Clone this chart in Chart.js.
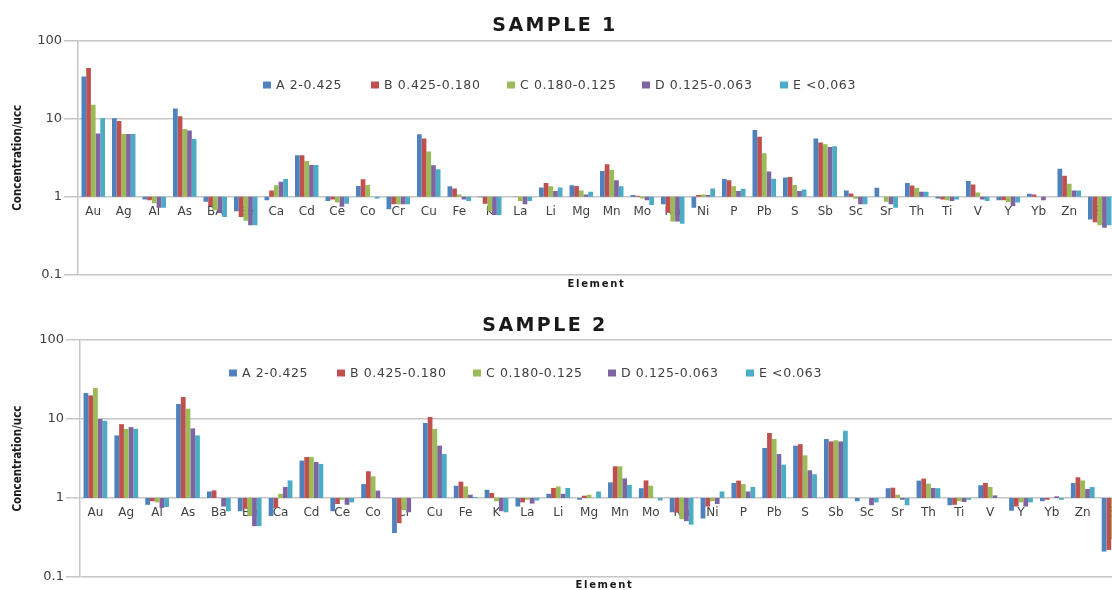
<!DOCTYPE html>
<html>
<head>
<meta charset="utf-8">
<title>Element concentrations by size fraction</title>
<script src="https://cdn.jsdelivr.net/npm/chart.js@4.4.1/dist/chart.umd.min.js"></script>
<style>
  html, body { margin: 0; padding: 0; background: #ffffff; width: 1112px; height: 590px; overflow: hidden; }
  canvas { position: absolute; left: 0; }
  #c1 { top: 0; }
  #c2 { top: 300px; }
</style>
</head>
<body>
<canvas id="c1" width="1115" height="300"></canvas>
<canvas id="c2" width="1129" height="290"></canvas>
<script>
// Element categories (sample 1 labels Barium as "BA")
const elements1 = ['Au','Ag','Al','As','BA','Be','Ca','Cd','Ce','Co','Cr','Cu','Fe','K','La','Li','Mg','Mn','Mo','Na','Ni','P','Pb','S','Sb','Sc','Sr','Th','Ti','V','Y','Yb','Zn','Zr'];
const elements2 = ['Au','Ag','Al','As','Ba','Be','Ca','Cd','Ce','Co','Cr','Cu','Fe','K','La','Li','Mg','Mn','Mo','Na','Ni','P','Pb','S','Sb','Sc','Sr','Th','Ti','V','Y','Yb','Zn','Zr'];

// Size fractions (mm)
const fractionNames = ['A 2-0.425', 'B 0.425-0.180', 'C 0.180-0.125', 'D 0.125-0.063', 'E <0.063'];

// Sample 1 — concentration normalised to upper continental crust
const s1A = [35, 10.2, 0.92, 13.6, 0.86, 0.65, 0.9, 3.4, 0.88, 1.37, 0.69, 6.35, 1.36, 0.98, 1.0, 1.31, 1.4, 2.14, 1.05, 0.8, 0.72, 1.69, 7.2, 1.76, 5.6, 1.2, 1.3, 1.5, 0.95, 1.59, 0.9, 1.09, 2.29, 0.51];
const s1B = [45, 9.4, 0.9, 10.8, 0.76, 0.55, 1.2, 3.4, 0.92, 1.67, 0.8, 5.58, 1.27, 0.81, 0.99, 1.5, 1.37, 2.6, 1.03, 0.62, 1.05, 1.62, 5.9, 1.79, 4.96, 1.1, 1.0, 1.39, 0.92, 1.43, 0.9, 1.07, 1.85, 0.47];
const s1C = [15.2, 6.4, 0.82, 7.4, 0.67, 0.49, 1.4, 2.88, 0.84, 1.41, 0.8, 3.8, 1.07, 0.65, 0.88, 1.36, 1.2, 2.2, 0.95, 0.48, 1.07, 1.36, 3.6, 1.41, 4.7, 0.94, 0.86, 1.3, 0.9, 1.13, 0.85, 1.0, 1.47, 0.43];
const s1D = [6.5, 6.4, 0.72, 7.1, 0.62, 0.43, 1.56, 2.56, 0.74, 1.0, 0.8, 2.53, 0.92, 0.58, 0.8, 1.18, 1.07, 1.62, 0.9, 0.48, 1.05, 1.18, 2.1, 1.18, 4.36, 0.8, 0.8, 1.16, 0.88, 0.92, 0.76, 0.9, 1.2, 0.4];
const s1E = [10.2, 6.4, 0.72, 5.5, 0.55, 0.43, 1.69, 2.56, 0.81, 0.95, 0.8, 2.25, 0.88, 0.58, 0.88, 1.31, 1.16, 1.36, 0.78, 0.45, 1.27, 1.26, 1.7, 1.24, 4.45, 0.8, 0.72, 1.16, 0.92, 0.88, 0.84, 1.0, 1.2, 0.43];

// Sample 2
const s2A = [21.3, 6.2, 0.82, 15.5, 1.21, 0.68, 0.59, 2.97, 0.68, 1.5, 0.36, 8.9, 1.43, 1.27, 0.78, 1.13, 0.95, 1.58, 1.33, 0.66, 0.55, 1.55, 4.3, 4.6, 5.58, 0.91, 1.33, 1.66, 0.81, 1.45, 0.69, 0.91, 1.55, 0.21];
const s2B = [19.9, 8.6, 0.91, 19, 1.25, 0.73, 0.75, 3.3, 0.84, 2.18, 0.48, 10.6, 1.61, 1.16, 0.88, 1.34, 1.07, 2.52, 1.67, 0.65, 0.78, 1.66, 6.65, 4.8, 5.2, 1.0, 1.35, 1.76, 0.82, 1.55, 0.78, 0.95, 1.83, 0.22];
const s2C = [24.7, 7.5, 0.88, 13.5, 1.0, 0.59, 1.13, 3.3, 0.95, 1.88, 0.7, 7.5, 1.4, 0.91, 0.95, 1.4, 1.1, 2.52, 1.43, 0.54, 0.91, 1.5, 5.6, 3.47, 5.37, 1.0, 1.1, 1.52, 0.91, 1.38, 0.88, 1.0, 1.67, 0.3];
const s2D = [10, 7.9, 0.75, 7.6, 0.78, 0.44, 1.38, 2.85, 0.82, 1.24, 0.66, 4.6, 1.1, 0.68, 0.85, 1.13, 1.0, 1.77, 1.0, 0.51, 0.84, 1.21, 3.6, 2.24, 5.2, 0.81, 0.95, 1.34, 0.89, 1.08, 0.78, 1.05, 1.3, 0.25];
const s2E = [9.5, 7.5, 0.77, 6.2, 0.68, 0.44, 1.67, 2.7, 0.88, 1.0, 1.0, 3.6, 1.03, 0.66, 0.93, 1.34, 1.21, 1.46, 0.93, 0.46, 1.21, 1.38, 2.64, 2.0, 7.1, 0.88, 0.81, 1.33, 0.95, 1.0, 0.88, 0.95, 1.38, 0.28];

// Value axis ticks
const yTickValues = [0.1, 1, 10, 100];
const yTickLabels = ['0.1', '1', '10', '100'];

// Text
const title1 = 'SAMPLE 1';
const title2 = 'SAMPLE 2';
const xTitle = 'Element';
const yTitle = 'Concentration/ucc';

const seriesColors = ['#4F81BD', '#C0504D', '#9BBB59', '#8064A2', '#4BACC6'];
const baseline = 1; // bars rise or hang from the ucc ratio of 1

// Draws the chart title, axis titles and the in-plot legend
const panelText = {
  id: 'panelText',
  afterDraw(chart, args, o) {
    const ctx = chart.ctx;
    const a = chart.chartArea;
    ctx.save();
    ctx.fillStyle = '#1a1a1a';
    // Title
    ctx.font = 'bold 19px "DejaVu Sans"';
    ctx.letterSpacing = '2.4px';
    ctx.textAlign = 'center';
    ctx.textBaseline = 'alphabetic';
    ctx.fillText(o.title, o.titleX, o.titleY);
    // Category axis title
    ctx.font = 'bold 10px "DejaVu Sans"';
    ctx.letterSpacing = '1.7px';
    ctx.fillText(xTitle, (a.left + a.right) / 2, o.xTitleY);
    // Value axis title
    ctx.save();
    ctx.translate(o.yTitleX, (a.top + a.bottom) / 2);
    ctx.rotate(-Math.PI / 2);
    ctx.font = 'bold 11.5px "Liberation Sans Narrow", "DejaVu Sans Condensed", sans-serif';
    ctx.letterSpacing = '0px';
    ctx.textBaseline = 'middle';
    ctx.fillText(yTitle, 0, 0);
    ctx.restore();
    // Legend
    ctx.font = '12.5px "DejaVu Sans"';
    ctx.letterSpacing = '0.6px';
    ctx.textAlign = 'left';
    ctx.textBaseline = 'middle';
    chart.data.datasets.forEach((ds, i) => {
      const x = o.legendX[i];
      ctx.fillStyle = ds.backgroundColor;
      ctx.fillRect(x, o.legendY - 3.5, 8, 7);
      ctx.fillStyle = '#404040';
      ctx.fillText(ds.label, x + 13, o.legendY + 0.5);
    });
    ctx.restore();
  }
};

function makeDatasets(series) {
  return series.map((vals, i) => ({
    label: fractionNames[i],
    data: vals.map(v => [baseline, v]),
    backgroundColor: seriesColors[i],
    borderWidth: 0,
    categoryPercentage: 0.77,
    barPercentage: 1.0
  }));
}

function makeChart(id, labels, series, lay) {
  return new Chart(document.getElementById(id), {
    type: 'bar',
    data: { labels: labels, datasets: makeDatasets(series) },
    plugins: [panelText],
    options: {
      responsive: false,
      animation: false,
      devicePixelRatio: 1,
      events: [],
      layout: { padding: { top: lay.top, bottom: lay.bottom, left: 0, right: 0 } },
      plugins: {
        legend: { display: false },
        tooltip: { enabled: false },
        title: { display: false },
        panelText: {
          title: lay.title, titleX: lay.titleX, titleY: 31,
          xTitleY: lay.xTitleY, yTitleX: 18,
          legendX: lay.legendX, legendY: lay.legendY
        }
      },
      scales: {
        x: {
          type: 'category',
          position: { y: baseline },
          z: 1,
          offset: true,
          grid: { display: false, drawTicks: false },
          border: { display: false },
          ticks: {
            autoSkip: false, maxRotation: 0, minRotation: 0, padding: 8,
            color: '#404040', font: { family: 'DejaVu Sans', size: 12 }
          }
        },
        y: {
          type: 'logarithmic',
          position: 'left',
          min: 0.1,
          max: 100,
          afterFit(scale) { scale.width = lay.axisLeft; },
          afterBuildTicks(scale) { scale.ticks = yTickValues.map(v => ({ value: v })); },
          grid: { color: '#c6c6c6', lineWidth: 1.5, tickLength: 14, drawTicks: true, tickColor: '#c6c6c6' },
          border: { display: true, color: '#c6c6c6', width: 1.5 },
          ticks: {
            padding: 2,
            color: '#404040',
            font: { family: 'DejaVu Sans', size: 13 },
            callback(value) { return yTickLabels[yTickValues.indexOf(value)]; }
          }
        }
      }
    }
  });
}

makeChart('c1', elements1, [s1A, s1B, s1C, s1D, s1E], {
  top: 41, bottom: 25.5, axisLeft: 78,
  title: title1, titleX: 555, xTitleY: 287,
  legendX: [263, 371, 507, 642, 780], legendY: 85
});

makeChart('c2', elements2, [s2A, s2B, s2C, s2D, s2E], {
  top: 40, bottom: 13, axisLeft: 80,
  title: title2, titleX: 545, xTitleY: 288,
  legendX: [229, 337, 473, 608, 746], legendY: 73
});
</script>
</body>
</html>
